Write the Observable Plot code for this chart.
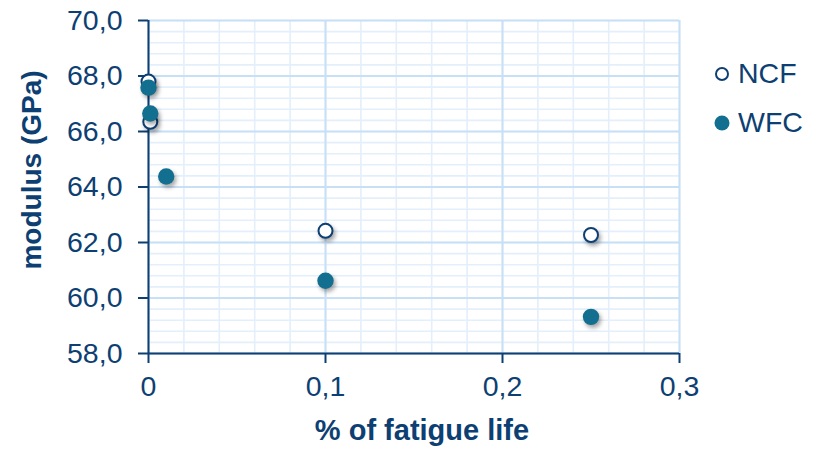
<!DOCTYPE html>
<html><head><meta charset="utf-8">
<script src="https://cdn.jsdelivr.net/npm/d3@7"></script>
<script src="https://cdn.jsdelivr.net/npm/@observablehq/plot@0.6"></script>
<style>
body{margin:0;background:#fff;font-family:"Liberation Sans",Arial,sans-serif}
#wrap{position:relative;width:816px;height:451px}
#legend{position:absolute;left:713px;top:49px;color:#0d3f73;font-size:28.5px;line-height:49px}
#legend div{display:flex;align-items:center;height:49px}
#legend svg{margin-right:7px}
</style>
</head><body>
<div id="wrap"><div id="legend"></div></div>
<script>
// Data
const ncfX = [0, 0.001, 0.1, 0.25];
const ncfY = [67.8, 66.35, 62.42, 62.27];
const wfcX = [0, 0.001, 0.01, 0.1, 0.25];
const wfcY = [67.58, 66.65, 64.38, 60.62, 59.32];
const xTicks = [0, 0.1, 0.2, 0.3];
const yTicks = [58, 60, 62, 64, 66, 68, 70];
const xMinor = d3.range(0, 0.3001, 0.02);
const yMinor = d3.range(58, 70.001, 0.4);
const seriesNames = ["NCF", "WFC"];

const navy = "#0d3f73";
const teal = "#136f8f";

const ncf = ncfX.map((x, i) => ({x, y: ncfY[i]}));
const wfc = wfcX.map((x, i) => ({x, y: wfcY[i]}));

const fmtY = d => d.toFixed(1).replace(".", ",");
const fmtX = d => d === 0 ? "0" : d.toFixed(1).replace(".", ",");

const chart = Plot.plot({
  width: 816, height: 451,
  marginLeft: 148, marginRight: 137, marginTop: 20, marginBottom: 98,
  style: {fontSize: "28.5px", fontFamily: "Liberation Sans, Arial, sans-serif", color: navy, background: "#fff"},
  x: {domain: [0, 0.3]},
  y: {domain: [58, 70]},
  marks: [
    Plot.ruleY(yMinor, {stroke: "#e3effb", strokeWidth: 1.6}),
    Plot.ruleX(xMinor, {stroke: "#e3effb", strokeWidth: 1.6}),
    Plot.ruleY(yTicks, {stroke: "#c8e0f6", strokeWidth: 2}),
    Plot.ruleX(xTicks, {stroke: "#c8e0f6", strokeWidth: 2}),
    Plot.ruleX([0], {stroke: navy, strokeWidth: 2}),
    Plot.ruleY([58], {stroke: navy, strokeWidth: 2}),
    Plot.axisY(yTicks, {tickSize: 10, tickPadding: 16, tickFormat: fmtY, stroke: navy, strokeWidth: 2, label: null, fill: navy}),
    Plot.axisX(xTicks, {tickSize: 10, tickPadding: 12, tickFormat: fmtX, stroke: navy, strokeWidth: 2, label: null, fill: navy}),
    Plot.dot(ncf, {x: "x", y: "y", r: 7, fill: "#fff", stroke: navy, strokeWidth: 2}),
    Plot.dot(wfc, {x: "x", y: "y", r: 8.2, fill: teal, stroke: "none"})
  ]
});

const svg = d3.select(chart);
svg.selectAll("g[aria-label=dot]").style("filter", "drop-shadow(2px 3px 2px rgba(0,0,0,0.35))");
svg.append("text")
  .attr("transform", "translate(41,170) rotate(-90)")
  .attr("text-anchor", "middle")
  .attr("font-weight", "bold").attr("font-size", "28px").attr("fill", navy)
  .text("modulus (GPa)");
svg.append("text")
  .attr("x", 422).attr("y", 440)
  .attr("text-anchor", "middle")
  .attr("font-weight", "bold").attr("font-size", "29px").attr("fill", navy)
  .text("% of fatigue life");

document.getElementById("wrap").prepend(chart);

const legend = document.getElementById("legend");
seriesNames.forEach((name, i) => {
  const row = document.createElement("div");
  const m = i === 0
    ? `<svg width="18" height="18"><circle cx="9" cy="9" r="6" fill="#fff" stroke="${navy}" stroke-width="2"/></svg>`
    : `<svg width="18" height="18"><circle cx="9" cy="9" r="7.5" fill="${teal}"/></svg>`;
  row.innerHTML = m + `<span>${name}</span>`;
  legend.appendChild(row);
});
</script>
</body></html>
